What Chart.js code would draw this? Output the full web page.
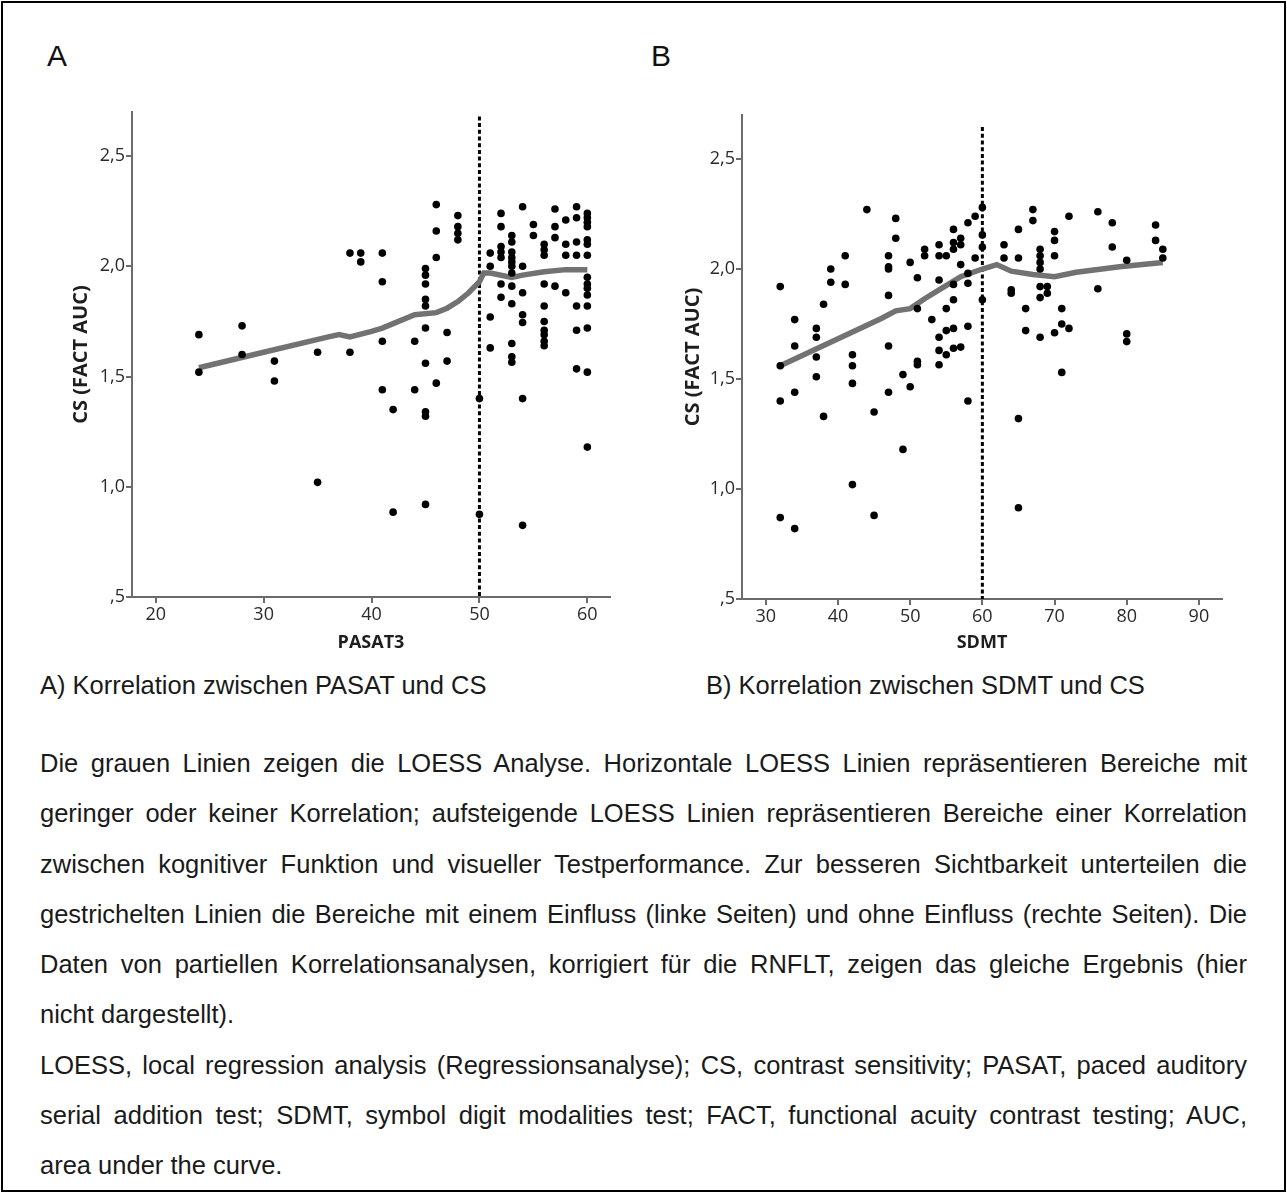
<!DOCTYPE html>
<html lang="de">
<head>
<meta charset="utf-8">
<title>LOESS CS vs PASAT / SDMT</title>
<script src="https://cdn.jsdelivr.net/npm/chart.js@4.4.1/dist/chart.umd.min.js"></script>
<style>
    body { margin: 0; background: #fff; }
    #page { position: relative; width: 1287px; height: 1193px; overflow: hidden;
            font-family: "Liberation Sans", Arial, sans-serif; color: #1a1a1a; }
    #frame { position: absolute; left: 1px; top: 1px; width: 1281px; height: 1187px; border: 2px solid #000; }
    canvas { position: absolute; top: 0; }
    #chartA { left: 0; }
    #chartB { left: 640px; }
    .letter { position: absolute; top: 41px; font-size: 30px; line-height: 30px; color: #111; }
    .caption { position: absolute; top: 670px; font-size: 25.5px; line-height: 30px; white-space: nowrap; }
    .line { position: absolute; left: 40px; width: 1207px; font-size: 25.5px; line-height: 30px;
            text-align: justify; text-align-last: justify; white-space: nowrap; }
    .line.last { text-align-last: left; }
</style>
</head>
<body>
<div id="page">
    <div id="frame"></div>
    <div class="letter" style="left:47px">A</div>
    <div class="letter" style="left:651px">B</div>
    <canvas id="chartA" width="640" height="660"></canvas>
    <canvas id="chartB" width="640" height="660"></canvas>
    <div class="caption" style="left:40px">A) Korrelation zwischen PASAT und CS</div>
    <div class="caption" style="left:706px">B) Korrelation zwischen SDMT und CS</div>
    <div id="notes"></div>
</div>

<script>
// Panel A: PASAT3 score vs. CS (FACT AUC), one entry per patient
const pasatX = [
    24, 24, 28, 28, 31, 31, 35, 35, 38, 38, 39, 39,
    41, 41, 41, 41, 42, 42, 44, 44,
    45, 45, 45, 45, 45, 45, 45, 45, 45, 45,
    46, 46, 46, 46, 47, 47, 48, 48, 48, 48, 50, 50,
    51, 51, 51, 51,
    52, 52, 52, 52, 52, 52, 52,
    53, 53, 53, 53, 53, 53, 53, 53, 53, 53, 53, 53,
    54, 54, 54, 54, 54, 54, 54, 55, 55,
    56, 56, 56, 56, 56, 56, 56, 56, 56, 56,
    57, 57, 57, 57, 58, 58, 58, 58,
    59, 59, 59, 59, 59, 59, 59,
    60, 60, 60, 60, 60, 60, 60, 60, 60, 60, 60, 60, 60, 60, 60
];
const pasatCS = [
    1.69, 1.52, 1.73, 1.60, 1.57, 1.48, 1.61, 1.02, 2.06, 1.61, 2.06, 2.02,
    2.06, 1.93, 1.66, 1.44, 1.35, 0.885, 1.66, 1.44,
    1.99, 1.96, 1.92, 1.85, 1.82, 1.72, 1.56, 1.34, 1.32, 0.92,
    2.28, 2.16, 2.04, 1.47, 1.70, 1.57, 2.23, 2.18, 2.15, 2.12, 1.40, 0.875,
    2.06, 2.00, 1.77, 1.63,
    2.24, 2.18, 2.09, 2.065, 2.04, 1.92, 1.86,
    2.14, 2.11, 2.065, 2.04, 2.02, 2.00, 1.97, 1.91, 1.83, 1.65, 1.59, 1.565,
    2.27, 2.00, 1.88, 1.78, 1.745, 1.40, 0.825, 2.19, 2.14,
    2.10, 2.075, 2.05, 1.92, 1.82, 1.75, 1.71, 1.69, 1.66, 1.64,
    2.26, 2.18, 2.13, 1.91, 2.21, 2.10, 2.05, 1.88,
    2.27, 2.22, 2.11, 2.05, 1.82, 1.71, 1.535,
    2.24, 2.22, 2.20, 2.18, 2.12, 2.10, 2.05, 1.95, 1.92, 1.90, 1.87, 1.82, 1.72, 1.52, 1.18
];
const loessAX = [24, 30, 36, 37, 38, 40, 41, 42, 44, 46, 47, 48, 49, 50, 50.4, 51, 53, 54, 56, 58, 60];
const loessAY = [1.54, 1.61, 1.68, 1.69, 1.68, 1.705, 1.72, 1.74, 1.78, 1.79, 1.81, 1.84, 1.88, 1.93, 1.97, 1.97, 1.95, 1.96, 1.975, 1.985, 1.985];
const cutAX = [50, 50];
const cutAY = [2.68, 0.5];
const pasatTicks = [20, 30, 40, 50, 60];

// Panel B: SDMT score vs. CS (FACT AUC)
const sdmtX = [
    32, 32, 32, 32, 34, 34, 34, 34, 37, 37, 37, 37, 38, 38, 39, 39, 41, 41,
    42, 42, 42, 42, 44, 45, 45,
    47, 47, 47, 47, 47, 47, 48, 48, 49, 49, 50, 50,
    51, 51, 51, 51, 52, 52, 53,
    54, 54, 54, 54, 54, 54, 55, 55, 55, 55,
    56, 56, 56, 56, 56, 56, 56, 57, 57, 57, 57,
    58, 58, 58, 58, 58, 59, 59, 60, 60, 60, 60,
    63, 63, 64, 64, 65, 65, 65, 65, 66, 66, 67, 67,
    68, 68, 68, 68, 68, 68, 68, 69, 69, 70, 70, 70, 70,
    71, 71, 71, 72, 72, 76, 76, 78, 78, 80, 80, 80, 84, 84, 85, 85
];
const sdmtCS = [
    1.92, 1.56, 1.40, 0.87, 1.77, 1.65, 1.44, 0.82, 1.73, 1.69, 1.60, 1.51, 1.84, 1.33, 2.00, 1.94, 2.06, 1.93,
    1.61, 1.56, 1.48, 1.02, 2.27, 1.35, 0.88,
    2.06, 2.01, 2.00, 1.88, 1.65, 1.44, 2.23, 2.14, 1.52, 1.18, 2.03, 1.465,
    1.96, 1.82, 1.58, 1.565, 2.09, 2.06, 1.77,
    2.11, 2.06, 1.95, 1.69, 1.63, 1.565, 2.06, 1.82, 1.72, 1.61,
    2.18, 2.12, 2.09, 1.93, 1.86, 1.73, 1.64, 2.14, 2.11, 2.02, 1.645,
    2.21, 1.98, 1.935, 1.74, 1.40, 2.24, 2.05, 2.28, 2.155, 2.10, 1.86,
    2.11, 2.05, 1.905, 1.89, 2.18, 2.05, 1.32, 0.915, 1.82, 1.72, 2.27, 2.22,
    2.09, 2.06, 2.03, 2.00, 1.92, 1.87, 1.69, 1.92, 1.89, 2.17, 2.13, 2.06, 1.71,
    1.82, 1.75, 1.53, 2.24, 1.73, 2.26, 1.91, 2.21, 2.10, 2.04, 1.705, 1.67, 2.20, 2.13, 2.09, 2.05
];
const loessBX = [32, 46, 48, 50, 52, 54, 57, 60, 62, 64, 67, 70, 73, 79, 85];
const loessBY = [1.56, 1.775, 1.81, 1.82, 1.865, 1.905, 1.965, 2.00, 2.02, 1.99, 1.975, 1.965, 1.985, 2.01, 2.03];
const cutBX = [60, 60];
const cutBY = [2.645, 0.5];
const sdmtTicks = [30, 40, 50, 60, 70, 80, 90];

// shared y axis
const csTicks = [0.5, 1.0, 1.5, 2.0, 2.5];
const csTickLabels = [',5', '1,0', '1,5', '2,0', '2,5'];

const noteLines = [
    'Die grauen Linien zeigen die LOESS Analyse. Horizontale LOESS Linien repräsentieren Bereiche mit',
    'geringer oder keiner Korrelation; aufsteigende LOESS Linien repräsentieren Bereiche einer Korrelation',
    'zwischen kognitiver Funktion und visueller Testperformance. Zur besseren Sichtbarkeit unterteilen die',
    'gestrichelten Linien die Bereiche mit einem Einfluss (linke Seiten) und ohne Einfluss (rechte Seiten). Die',
    'Daten von partiellen Korrelationsanalysen, korrigiert für die RNFLT, zeigen das gleiche Ergebnis (hier',
    'nicht dargestellt).',
    'LOESS, local regression analysis (Regressionsanalyse); CS, contrast sensitivity; PASAT, paced auditory',
    'serial addition test; SDMT, symbol digit modalities test; FACT, functional acuity contrast testing; AUC,',
    'area under the curve.'
];
const lastLines = [5, 8];

const axisGrey = '#6c6c6c';
const tickFont = { family: 'Open Sans', size: 18 };

function toPoints(xs, ys) {
    return xs.map((x, i) => ({ x: x, y: ys[i] }));
}

function buildPanel(id, p) {
    return new Chart(document.getElementById(id), {
        type: 'scatter',
        data: {
            datasets: [
                { data: toPoints(p.x, p.y), pointRadius: 3.8, backgroundColor: '#000', borderWidth: 0, order: 0 },
                { data: toPoints(p.loessX, p.loessY), showLine: true, borderColor: '#727272', borderWidth: 5.5,
                  pointRadius: 0, order: 1 },
                { data: toPoints(p.cutX, p.cutY), showLine: true, borderColor: '#000', borderWidth: 3,
                  borderDash: [4, 2.7], pointRadius: 0, order: 2 }
            ]
        },
        options: {
            responsive: false,
            animation: false,
            events: [],
            layout: { padding: p.padding },
            plugins: { legend: { display: false }, tooltip: { enabled: false } },
            scales: {
                x: {
                    type: 'linear', min: p.xMin, max: p.xMax,
                    afterBuildTicks: s => { s.ticks = p.xTicks.map(v => ({ value: v })); },
                    afterFit: s => { s.height = p.xAxisHeight; },
                    ticks: { font: tickFont, color: '#2a2a2a', padding: 1, maxRotation: 0, autoSkip: false },
                    grid: { drawOnChartArea: false, drawTicks: true, tickLength: 6, color: axisGrey, lineWidth: 2 },
                    border: { display: true, color: axisGrey, width: 2 },
                    title: { display: true, text: p.xTitle, font: { family: 'Open Sans', size: 18, weight: 'bold' },
                             color: '#1e1e1e', padding: { top: 0, bottom: 6 } }
                },
                y: {
                    type: 'linear', min: 0.5, max: 2.7,
                    afterBuildTicks: s => { s.ticks = csTicks.map(v => ({ value: v })); },
                    afterFit: s => { s.width = p.yAxisWidth; },
                    ticks: { font: tickFont, color: '#2a2a2a', padding: 1, callback: (v, i) => csTickLabels[i] },
                    grid: { drawOnChartArea: false, drawTicks: true, tickLength: 6, color: axisGrey, lineWidth: 2 },
                    border: { display: true, color: axisGrey, width: 2 },
                    title: { display: true, text: 'CS (FACT AUC)', font: { family: 'Open Sans', size: 20, weight: 'bold' },
                             color: '#1e1e1e', padding: { top: p.yTitleOffset, bottom: 0 } }
                }
            }
        }
    });
}

buildPanel('chartA', {
    x: pasatX, y: pasatCS, loessX: loessAX, loessY: loessAY, cutX: cutAX, cutY: cutAY,
    xMin: 17.8, xMax: 62.1, xTicks: pasatTicks, xTitle: 'PASAT3',
    padding: { top: 112, right: 30, left: 0, bottom: 0 },
    xAxisHeight: 63, yAxisWidth: 132, yTitleOffset: 69
});

buildPanel('chartB', {
    x: sdmtX, y: sdmtCS, loessX: loessBX, loessY: loessBY, cutX: cutBX, cutY: cutBY,
    xMin: 26.7, xMax: 93.2, xTicks: sdmtTicks, xTitle: 'SDMT',
    padding: { top: 115, right: 58, left: 0, bottom: 0 },
    xAxisHeight: 61, yAxisWidth: 102, yTitleOffset: 41
});

// caption text below the charts, one div per printed line
const notes = document.getElementById('notes');
noteLines.forEach((text, i) => {
    const div = document.createElement('div');
    div.className = 'line' + (lastLines.includes(i) ? ' last' : '');
    div.style.top = (748 + i * 50.25) + 'px';
    div.textContent = text;
    notes.appendChild(div);
});
</script>
</body>
</html>
